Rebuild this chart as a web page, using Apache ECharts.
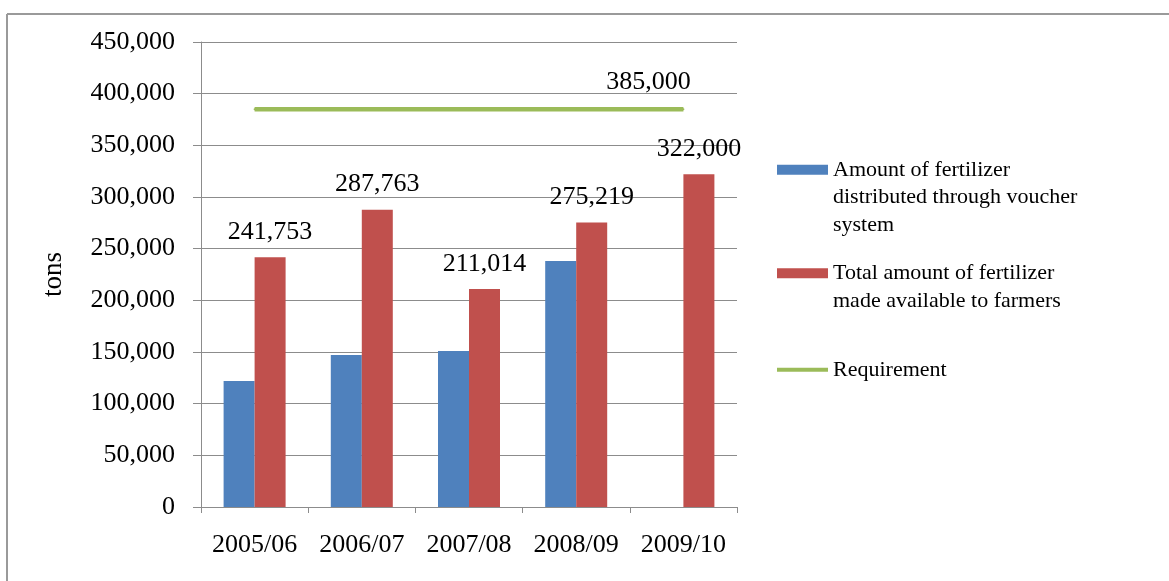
<!DOCTYPE html>
<html>
<head>
<meta charset="utf-8">
<title>Fertilizer distribution</title>
<script src="https://cdn.jsdelivr.net/npm/echarts@6/dist/echarts.min.js"></script>
<style>
  html, body { margin: 0; padding: 0; background: #ffffff; }
  #chart { width: 1169px; height: 581px; }
</style>
</head>
<body>
<div id="chart"></div>
<script>
// Seasons on the category axis
const seasons = ['2005/06', '2006/07', '2007/08', '2008/09', '2009/10'];

// Fertilizer distributed through the voucher system (tons); no figure for 2009/10
const voucherTons = [122000, 147000, 151000, 238000, null];

// Total fertilizer made available to farmers (tons)
const totalTons = [241753, 287763, 211014, 275219, 322000];

// National requirement (tons)
const requirementTons = [385000, 385000, 385000, 385000, 385000];

// Series names shown in the legend
const seriesNames = [
  'Amount of fertilizer\ndistributed through voucher\nsystem',
  'Total amount of fertilizer\nmade available to farmers',
  'Requirement'
];

const BLUE = '#4F81BD';
const RED = '#C0504D';
const GREEN = '#9BBB59';
const GRID_GREY = '#8c8c8c';
const FONT = '"Liberation Serif", "Times New Roman", serif';

const fmt = v => Number(v).toLocaleString('en-US');

// Legend text is centred on its swatch; leading blank lines push the
// first line of a multi-line name level with the swatch.
const alignFirstLine = name => '\n'.repeat(name.split('\n').length - 1) + name;

const chart = echarts.init(document.getElementById('chart'), null, { renderer: 'canvas' });

const legendText = {
  fontFamily: FONT,
  fontSize: 22,
  lineHeight: 27.5,
  color: '#000'
};

chart.setOption({
  backgroundColor: '#ffffff',
  animation: false,
  textStyle: { fontFamily: FONT },
  grid: { left: 201, right: 432, top: 42, bottom: 74, containLabel: false },
  // Frame around the chart area (top and left edges)
  graphic: [
    { type: 'line', shape: { x1: 7, y1: 14, x2: 1169, y2: 14 }, style: { stroke: '#9a9a9a', lineWidth: 2 } },
    { type: 'line', shape: { x1: 7, y1: 14, x2: 7, y2: 581 }, style: { stroke: '#9a9a9a', lineWidth: 2 } }
  ],
  legend: [
    {
      orient: 'vertical', left: 777, top: 101, padding: 0,
      itemWidth: 51, itemHeight: 10, icon: 'rect',
      data: [seriesNames[0]],
      formatter: alignFirstLine,
      textStyle: legendText
    },
    {
      orient: 'vertical', left: 777, top: 232, padding: 0,
      itemWidth: 51, itemHeight: 10, icon: 'rect',
      data: [seriesNames[1]],
      formatter: alignFirstLine,
      textStyle: legendText
    },
    {
      orient: 'vertical', left: 777, top: 356, padding: 0,
      itemWidth: 51, itemHeight: 4, icon: 'rect',
      data: [seriesNames[2]],
      textStyle: legendText
    }
  ],
  xAxis: {
    type: 'category',
    data: seasons,
    axisLine: { show: true, lineStyle: { color: GRID_GREY, width: 1 } },
    axisTick: { show: true, interval: 0, length: 6, lineStyle: { color: GRID_GREY } },
    axisLabel: { interval: 0, fontFamily: FONT, fontSize: 26, color: '#000', margin: 25 },
    splitLine: { show: false }
  },
  yAxis: {
    type: 'value',
    min: 0, max: 450000, interval: 50000,
    name: 'tons',
    nameLocation: 'middle',
    nameGap: 134,
    nameRotate: 90,
    nameTextStyle: { fontFamily: FONT, fontSize: 27, color: '#000' },
    axisLine: { show: true, lineStyle: { color: GRID_GREY, width: 1 } },
    axisTick: { show: true, inside: false, length: 8, lineStyle: { color: GRID_GREY } },
    axisLabel: { fontFamily: FONT, fontSize: 26, color: '#000', margin: 26, formatter: fmt },
    splitLine: { show: true, lineStyle: { color: GRID_GREY, width: 1 } }
  },
  series: [
    {
      name: seriesNames[0],
      type: 'bar',
      data: voucherTons,
      barWidth: 31,
      barGap: '0%',
      itemStyle: { color: BLUE }
    },
    {
      name: seriesNames[1],
      type: 'bar',
      data: totalTons,
      barWidth: 31,
      barGap: '0%',
      itemStyle: { color: RED },
      label: {
        show: true,
        position: 'top',
        distance: 12,
        fontFamily: FONT,
        fontSize: 26,
        color: '#000',
        formatter: p => fmt(p.value)
      }
    },
    {
      name: seriesNames[2],
      type: 'line',
      data: requirementTons.map((v, i) => i === requirementTons.length - 1
        ? {
            value: v,
            label: {
              show: true,
              position: 'top',
              offset: [-35, -8],
              fontFamily: FONT,
              fontSize: 26,
              color: '#000',
              formatter: p => fmt(p.value)
            }
          }
        : v),
      symbol: 'circle',
      symbolSize: 2,
      showSymbol: true,
      lineStyle: { color: GREEN, width: 4.5 },
      itemStyle: { color: GREEN },
      z: 3
    }
  ]
});
</script>
</body>
</html>
